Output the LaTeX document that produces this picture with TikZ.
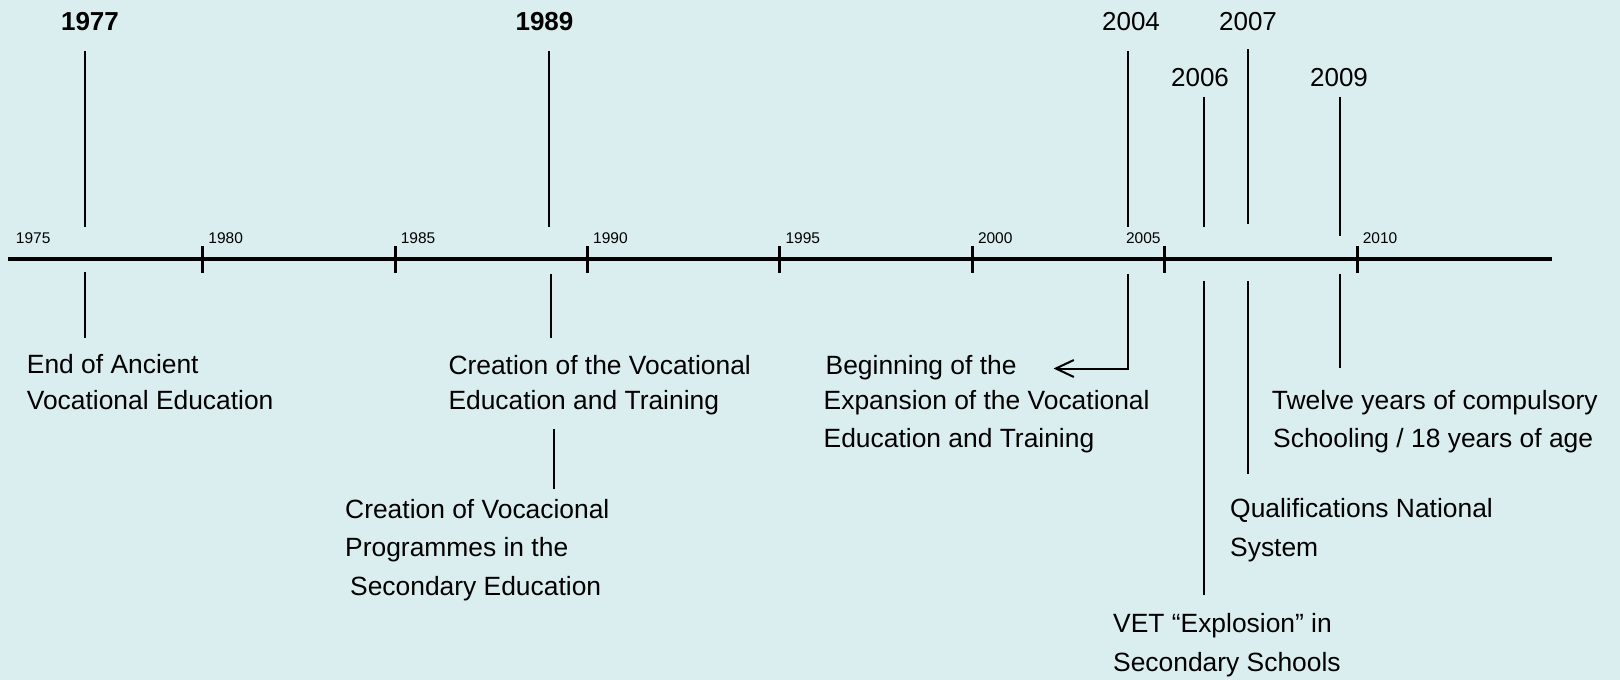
\documentclass[tikz,border=0pt]{standalone}
\usepackage{fontspec}
\setmainfont{Liberation Sans}
\usepackage{tikz, xcolor}
\usetikzlibrary{arrows.meta}
\definecolor{bgblue}{RGB}{218,237,239}
\newcommand{\yearx}[1]{10.3+(#1-1975)*38.48}

\begin{document}
\begin{tikzpicture}[x=1pt, y=-1pt,
    event/.style={line width=2pt},
    yearlab/.style={anchor=base, inner sep=0pt, font=\fontsize{26}{30}\selectfont},
    ticklab/.style={anchor=base west, inner sep=0pt, font=\fontsize{15.5}{18}\selectfont},
    desc/.style={anchor=base west, align=left, inner sep=0pt, font=\fontsize{26.4}{38.5}\selectfont}]
    \fill [bgblue] (0,0) rectangle (1620,680);
    \useasboundingbox (0,0) rectangle (1620,680);

    % time axis (multi-line labels below sit on the baseline of their last line)
    \coordinate (axstart) at (8.3,259);
    \coordinate (axend) at (1552,259);
    \draw [line width=4.5pt] (axstart) -- (axend);
    \foreach \yr in {1975,1980,1985,1990,1995,2000,2010}{
        \pgfmathsetmacro{\xx}{\yearx{\yr}}
        \node [ticklab] (lab\yr) at (\xx+5.5,243) {\yr};
    }
    \pgfmathsetmacro{\xx}{\yearx{2005}}
    \node [ticklab, anchor=base east] (lab2005) at (\xx-4,243) {2005};
    \foreach \yr in {1980,1985,...,2010}{
        \pgfmathsetmacro{\xx}{\yearx{\yr}}
        \draw [line width=3pt] (\xx,246) -- (\xx,272.5);
    }

    % 1977
    \node [yearlab, font=\bfseries\fontsize{26}{30}\selectfont] (y1977) at (90,30.5) {1977};
    \coordinate (t1977) at (84.5,51); \coordinate (a1977) at (84.5,227.3);
    \coordinate (b1977) at (84.5,271.7); \coordinate (c1977) at (84.5,337.8);
    \draw [event] (t1977) -- (a1977);
    \draw [event] (b1977) -- (c1977);
    \node [desc, font=\fontsize{26.4}{35.7}\selectfont] (d1977) at (26.7,409) {End of Ancient\\Vocational Education};

    % 1989
    \node [yearlab, font=\bfseries\fontsize{26}{30}\selectfont] (y1989) at (544.5,30.5) {1989};
    \coordinate (t1989) at (548.6,51); \coordinate (a1989) at (548.6,227.3);
    \coordinate (b1989) at (550.7,273.8); \coordinate (c1989) at (550.7,337.8);
    \coordinate (e1989) at (553.7,429.3); \coordinate (f1989) at (553.7,489.3);
    \draw [event] (t1989) -- (a1989);
    \draw [event] (b1989) -- (c1989);
    \draw [event] (e1989) -- (f1989);
    \node [desc, font=\fontsize{26.4}{35}\selectfont] (d1989) at (448.3,409.3) {Creation of the Vocational\\Education and Training};
    \node [desc] (p1989) at (345,595) {Creation of Vocacional\\Programmes in the\\\hspace*{5pt}Secondary Education};

    % 2004
    \node [yearlab] (y2004) at (1131,30) {2004};
    \coordinate (t2004) at (1128,51); \coordinate (a2004) at (1128,226.5);
    \coordinate (b2004) at (1128,273.5); \coordinate (c2004) at (1128,368.5);
    \coordinate (e2004) at (1053.5,368.5);
    \draw [event] (t2004) -- (a2004);
    \draw [event, -{Straight Barb[length=18pt, width=17pt]}] (b2004) -- (c2004) -- (e2004);
    \node [desc, font=\fontsize{26.4}{35.1}\selectfont] (d2004) at (823.5,447.5) {\hspace*{2pt}Beginning of the\\Expansion of the Vocational\\[3.1pt]Education and Training};

    % 2006
    \node [yearlab] (y2006) at (1200,86) {2006};
    \coordinate (t2006) at (1203.5,96.7); \coordinate (a2006) at (1203.5,226.7);
    \coordinate (b2006) at (1203.5,281); \coordinate (c2006) at (1203.5,595);
    \draw [event] (t2006) -- (a2006);
    \draw [event] (b2006) -- (c2006);
    \node [desc, font=\fontsize{26.4}{38.3}\selectfont] (d2006) at (1113,671) {VET \textquotedblleft Explosion\textquotedblright{} in\\Secondary Schools};

    % 2007
    \node [yearlab] (y2007) at (1248,30) {2007};
    \coordinate (t2007) at (1247.8,49.3); \coordinate (a2007) at (1247.8,224.3);
    \coordinate (b2007) at (1247.8,281); \coordinate (c2007) at (1247.8,474);
    \draw [event] (t2007) -- (a2007);
    \draw [event] (b2007) -- (c2007);
    \node [desc, font=\fontsize{26.4}{39}\selectfont] (d2007) at (1230,556.7) {Qualifications National\\System};

    % 2009
    \node [yearlab] (y2009) at (1339,86) {2009};
    \coordinate (t2009) at (1339.5,96.7); \coordinate (a2009) at (1339.5,236);
    \coordinate (b2009) at (1339.5,273.5); \coordinate (c2009) at (1339.5,368);
    \draw [event] (t2009) -- (a2009);
    \draw [event] (b2009) -- (c2009);
    \node [desc, font=\fontsize{26.4}{38.3}\selectfont] (d2009) at (1271.7,447.3) {Twelve years of compulsory\\\hspace*{1.3pt}Schooling / 18 years of age};
\end{tikzpicture}
\end{document}
